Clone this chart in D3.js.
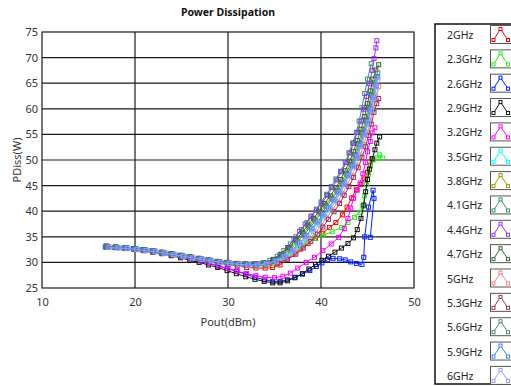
<!DOCTYPE html>
<html>
<head>
<meta charset="utf-8">
<script src="https://cdn.jsdelivr.net/npm/d3@7/dist/d3.min.js"></script>
<style>
  html, body { margin: 0; padding: 0; background: #fff; }
  svg { display: block; }
  text { font-family: "Noto Sans", "Open Sans", sans-serif; fill: #333; }
</style>
</head>
<body>
<svg id="chart" width="511" height="386"></svg>
<script>
// Power dissipation (W) against output power (dBm), one sweep per frequency.
const freqLabels = ["2GHz", "2.3GHz", "2.6GHz", "2.9GHz", "3.2GHz", "3.5GHz", "3.8GHz", "4.1GHz",
                    "4.4GHz", "4.7GHz", "5GHz", "5.3GHz", "5.6GHz", "5.9GHz", "6GHz"];
const seriesColors = ["#ff0000", "#22ee22", "#0022ff", "#111111", "#ff00ff", "#00ffff", "#999900", "#339966",
                      "#9933ff", "#336633", "#ff8080", "#993366", "#4d8a7a", "#3388ff", "#9999ff"];

const xTicks = [10, 20, 30, 40, 50];
const yTicks = [25, 30, 35, 40, 45, 50, 55, 60, 65, 70, 75];

// [Pout dBm, PDiss W]
const s2GHz = [[17.0,33.0],[18.0,32.9],[19.0,32.8],[20.0,32.6],[21.0,32.4],[22.0,32.2],[23.0,31.9],[24.0,31.6],[25.0,31.3],[26.0,31.0],[27.0,30.6],[28.0,30.2],[29.0,29.9],[30.0,29.6],[31.0,29.3],[32.0,29.0],[33.0,28.9],[34.0,28.9],[34.8,29.0],[35.6,29.5],[36.3,30.6],[37.0,31.6],[37.8,32.6],[38.6,33.7],[39.4,34.7],[40.2,35.7],[40.9,36.8],[41.6,37.8],[42.3,39.3],[42.8,40.8],[43.3,42.6],[43.8,44.2],[44.3,45.2],[44.7,46.3],[45.0,47.6],[45.3,49.0],[45.5,50.3]];
const s2p3GHz = [[17.1,33.0],[18.1,32.9],[19.1,32.8],[20.1,32.6],[21.1,32.4],[22.1,32.2],[23.1,31.9],[24.1,31.6],[25.1,31.3],[26.1,31.0],[27.1,30.7],[28.1,30.4],[29.1,30.1],[30.1,29.8],[31.1,29.6],[32.1,29.4],[33.1,29.3],[34.1,29.4],[35.0,29.8],[35.9,30.6],[36.7,31.8],[37.5,33.0],[38.4,34.0],[39.3,34.7],[40.2,35.3],[41.2,36.0],[42.2,36.8],[42.9,37.8],[43.6,38.8],[44.2,39.8],[44.5,41.0],[44.7,43.0],[44.9,45.2],[45.1,47.2],[45.3,48.8],[45.6,50.0],[46.0,50.4],[46.3,51.0],[46.6,50.4]];
const s2p6GHz = [[16.9,33.0],[17.9,32.9],[18.9,32.8],[19.9,32.6],[20.9,32.4],[21.9,32.1],[22.9,31.8],[23.9,31.5],[24.9,31.1],[25.9,30.7],[26.9,30.3],[27.9,29.8],[28.9,29.3],[29.9,28.8],[30.9,28.3],[31.9,27.7],[32.9,27.1],[33.9,26.6],[34.8,26.3],[35.6,26.3],[36.4,26.6],[37.2,27.1],[38.0,27.7],[38.8,28.4],[39.5,29.2],[40.1,29.9],[40.7,30.5],[41.3,30.8],[42.0,30.7],[42.6,30.5],[43.2,30.1],[43.8,29.8],[44.4,29.6],[44.6,31.0],[44.7,35.0],[45.1,40.8],[45.6,44.1],[45.7,42.5],[45.3,34.9]];
const s2p9GHz = [[16.9,33.2],[17.9,33.0],[18.9,32.8],[19.9,32.6],[20.9,32.3],[21.9,32.0],[22.9,31.7],[23.9,31.3],[24.9,30.9],[25.9,30.4],[26.9,30.0],[27.9,29.5],[28.9,29.0],[29.9,28.4],[30.9,27.8],[31.9,27.2],[32.9,26.7],[33.9,26.3],[34.8,26.0],[35.6,26.0],[36.4,26.4],[37.2,27.0],[38.0,27.8],[38.7,28.7],[39.4,29.6],[40.1,30.4],[40.8,31.2],[41.5,32.0],[42.2,32.8],[42.9,33.7],[43.5,34.8],[43.9,36.4],[44.3,38.6],[44.6,41.2],[44.8,43.8],[45.0,46.2],[45.2,48.2],[45.5,50.2],[45.8,52.0],[46.0,53.3],[46.3,54.5]];
const s3p2GHz = [[17.0,33.0],[18.0,32.9],[19.0,32.8],[20.0,32.6],[21.0,32.4],[22.0,32.1],[23.0,31.8],[24.0,31.5],[25.0,31.1],[26.0,30.7],[27.0,30.3],[28.0,29.8],[29.0,29.3],[30.0,28.8],[31.0,28.3],[32.0,27.8],[33.0,27.4],[34.0,27.1],[35.0,27.0],[35.9,27.3],[36.7,27.9],[37.5,28.9],[38.4,30.0],[39.3,31.0],[40.2,32.3],[41.1,33.6],[41.9,34.9],[42.5,36.6],[42.9,38.6],[43.2,40.6],[43.5,42.5],[43.9,44.1],[44.2,45.5],[44.5,47.3],[44.8,49.5],[45.0,51.6],[45.3,53.6],[45.5,55.3],[45.8,56.3]];
const s3p5GHz = [[17.2,33.0],[18.2,32.9],[19.2,32.8],[20.2,32.6],[21.2,32.4],[22.2,32.2],[23.2,31.9],[24.2,31.6],[25.2,31.3],[26.2,31.0],[27.2,30.7],[28.2,30.4],[29.2,30.1],[30.2,29.9],[31.2,29.7],[32.2,29.6],[33.2,29.6],[34.2,29.7],[35.2,30.0],[36.2,30.8],[37.1,31.9],[37.9,33.2],[38.6,34.6],[39.2,36.0],[39.8,37.4],[40.4,38.9],[41.0,40.4],[41.6,42.0],[42.1,43.6],[42.6,45.3],[43.1,47.1],[43.6,49.0],[44.0,51.0],[44.4,53.2],[44.8,55.5],[45.1,57.8],[45.4,60.1],[45.7,62.2],[45.9,63.5]];
const s3p8GHz = [[17.0,33.1],[18.0,33.0],[19.0,32.8],[20.0,32.6],[21.0,32.4],[22.0,32.2],[23.0,31.9],[24.0,31.6],[25.0,31.3],[26.0,31.0],[27.0,30.7],[28.0,30.4],[29.0,30.1],[30.0,29.9],[31.0,29.7],[32.0,29.7],[33.0,29.7],[34.0,29.8],[35.0,30.5],[35.8,31.5],[36.6,32.8],[37.4,34.2],[38.1,35.6],[38.7,37.0],[39.3,38.3],[39.9,39.7],[40.5,41.1],[41.1,42.6],[41.7,44.1],[42.2,45.7],[42.7,47.4],[43.2,49.2],[43.6,51.1],[44.0,53.2],[44.4,55.4],[44.8,57.8],[45.1,60.3],[45.4,62.7],[45.7,64.8],[46.0,66.3]];
const s4p1GHz = [[16.8,33.0],[17.8,32.9],[18.8,32.8],[19.8,32.7],[20.8,32.5],[21.8,32.3],[22.8,32.0],[23.8,31.7],[24.8,31.4],[25.8,31.1],[26.8,30.8],[27.8,30.5],[28.8,30.2],[29.8,30.0],[30.8,29.8],[31.8,29.7],[32.8,29.7],[33.7,29.9],[34.5,30.4],[35.3,31.2],[36.0,32.3],[36.7,33.6],[37.3,35.0],[37.9,36.4],[38.5,37.8],[39.0,39.1],[39.5,40.4],[40.0,41.8],[40.6,43.3],[41.1,44.8],[41.6,46.3],[42.1,47.8],[42.6,49.6],[43.0,51.4],[43.4,53.3],[43.8,55.4],[44.1,57.6],[44.4,60.2],[44.7,63.0],[45.0,65.8],[45.4,68.8]];
const s4p4GHz = [[17.1,33.0],[18.1,32.9],[19.1,32.8],[20.1,32.6],[21.1,32.4],[22.1,32.2],[23.1,31.9],[24.1,31.6],[25.1,31.3],[26.1,31.0],[27.1,30.7],[28.1,30.4],[29.1,30.1],[30.1,29.9],[31.1,29.7],[32.1,29.6],[33.1,29.7],[34.0,29.9],[34.8,30.5],[35.6,31.5],[36.4,32.9],[37.1,34.6],[37.7,36.1],[38.3,37.5],[38.9,38.9],[39.5,40.2],[40.1,41.6],[40.7,43.1],[41.2,44.6],[41.7,46.1],[42.2,47.7],[42.7,49.5],[43.1,51.4],[43.5,53.3],[43.9,55.4],[44.3,57.6],[44.6,59.9],[44.9,62.4],[45.2,64.9],[45.5,67.5],[45.7,69.8],[45.9,71.9],[46.0,73.3]];
const s4p7GHz = [[16.9,33.1],[17.9,33.0],[18.9,32.8],[19.9,32.7],[20.9,32.5],[21.9,32.2],[22.9,32.0],[23.9,31.7],[24.9,31.4],[25.9,31.1],[26.9,30.8],[27.9,30.5],[28.9,30.2],[29.9,30.0],[30.9,29.8],[31.9,29.7],[32.9,29.7],[33.9,29.9],[34.9,30.6],[35.7,31.6],[36.5,32.9],[37.3,34.4],[38.0,35.9],[38.6,37.3],[39.2,38.6],[39.8,40.0],[40.4,41.5],[41.0,43.0],[41.6,44.6],[42.1,46.2],[42.6,47.9],[43.1,49.8],[43.5,51.7],[43.9,53.8],[44.3,56.0],[44.7,58.5],[45.0,61.0],[45.3,63.5],[45.6,65.8],[45.9,67.6],[46.2,68.6]];
const s5GHz = [[17.2,33.0],[18.2,32.9],[19.2,32.7],[20.2,32.5],[21.2,32.3],[22.2,32.1],[23.2,31.8],[24.2,31.5],[25.2,31.2],[26.2,30.9],[27.2,30.6],[28.2,30.3],[29.2,30.0],[30.2,29.8],[31.2,29.6],[32.2,29.5],[33.2,29.5],[34.2,29.6],[35.3,30.0],[36.3,30.7],[37.2,31.8],[38.0,33.0],[38.7,34.4],[39.4,35.8],[40.0,37.2],[40.6,38.7],[41.2,40.2],[41.8,41.8],[42.3,43.4],[42.8,45.1],[43.3,46.9],[43.8,48.8],[44.2,50.8],[44.6,53.0],[45.0,55.3],[45.3,57.7],[45.6,60.0],[45.9,62.4],[46.2,64.3]];
const s5p3GHz = [[17.0,33.0],[18.0,32.9],[19.0,32.7],[20.0,32.5],[21.0,32.3],[22.0,32.1],[23.0,31.8],[24.0,31.5],[25.0,31.2],[26.0,30.9],[27.0,30.6],[28.0,30.3],[29.0,30.0],[30.0,29.8],[31.0,29.6],[32.0,29.5],[33.0,29.5],[34.0,29.5],[35.3,29.9],[36.4,30.6],[37.3,31.6],[38.1,32.8],[38.9,34.1],[39.6,35.5],[40.2,36.9],[40.8,38.4],[41.4,39.9],[42.0,41.5],[42.5,43.1],[43.0,44.8],[43.5,46.6],[44.0,48.5],[44.4,50.5],[44.8,52.6],[45.1,54.8],[45.4,57.0],[45.7,59.3],[46.0,61.0],[46.2,62.0]];
const s5p6GHz = [[16.9,33.0],[17.9,32.9],[18.9,32.8],[19.9,32.6],[20.9,32.4],[21.9,32.2],[22.9,31.9],[23.9,31.6],[24.9,31.3],[25.9,31.0],[26.9,30.7],[27.9,30.4],[28.9,30.1],[29.9,29.9],[30.9,29.7],[31.9,29.6],[32.9,29.6],[33.9,29.8],[35.0,30.4],[35.9,31.4],[36.7,32.6],[37.5,34.0],[38.2,35.4],[38.8,36.8],[39.4,38.1],[40.0,39.5],[40.6,40.9],[41.2,42.4],[41.8,43.9],[42.3,45.5],[42.8,47.2],[43.3,49.0],[43.7,50.9],[44.1,53.0],[44.5,55.2],[44.9,57.6],[45.2,60.1],[45.5,62.6],[45.8,65.0],[46.1,67.0]];
const s5p9GHz = [[17.1,33.0],[18.1,32.9],[19.1,32.8],[20.1,32.6],[21.1,32.4],[22.1,32.1],[23.1,31.8],[24.1,31.5],[25.1,31.2],[26.1,30.9],[27.1,30.6],[28.1,30.3],[29.1,30.0],[30.1,29.8],[31.1,29.6],[32.1,29.5],[33.1,29.5],[34.0,29.7],[35.1,30.3],[36.0,31.2],[36.9,32.4],[37.7,33.8],[38.4,35.2],[39.0,36.6],[39.6,37.9],[40.2,39.3],[40.8,40.7],[41.4,42.2],[41.9,43.7],[42.4,45.3],[42.9,47.0],[43.4,48.8],[43.8,50.7],[44.2,52.8],[44.6,55.0],[45.0,57.4],[45.3,59.8],[45.6,62.2],[45.9,64.5],[46.1,66.2]];
const s6GHz = [[17.2,32.9],[18.2,32.8],[19.2,32.7],[20.2,32.5],[21.2,32.3],[22.2,32.1],[23.2,31.8],[24.2,31.5],[25.2,31.2],[26.2,30.9],[27.2,30.6],[28.2,30.3],[29.2,30.0],[30.2,29.8],[31.2,29.6],[32.2,29.5],[33.2,29.5],[34.1,29.7],[35.2,30.2],[36.1,31.1],[37.0,32.3],[37.8,33.7],[38.5,35.1],[39.1,36.5],[39.7,37.8],[40.3,39.2],[40.9,40.6],[41.5,42.1],[42.0,43.6],[42.5,45.2],[43.0,46.9],[43.5,48.7],[43.9,50.6],[44.3,52.7],[44.7,54.9],[45.1,57.3],[45.4,59.7],[45.7,62.1],[45.9,64.3],[46.1,65.5]];

const seriesData = [s2GHz, s2p3GHz, s2p6GHz, s2p9GHz, s3p2GHz, s3p5GHz, s3p8GHz, s4p1GHz,
                    s4p4GHz, s4p7GHz, s5GHz, s5p3GHz, s5p6GHz, s5p9GHz, s6GHz];

const svg = d3.select("#chart");
const plot = { left: 42, right: 414, top: 32, bottom: 288 };

const x = d3.scaleLinear().domain([10, 50]).range([plot.left, plot.right]);
const y = d3.scaleLinear().domain([25, 75]).range([plot.bottom, plot.top]);

// Title
svg.append("text")
  .attr("x", (plot.left + plot.right) / 2).attr("y", 16)
  .attr("text-anchor", "middle")
  .style("font-size", "10.5px").style("font-weight", "bold").style("fill", "#111")
  .text("Power Dissipation");

// Grid
const grid = svg.append("g").attr("stroke", "#1a1a1a").attr("stroke-width", 1.2);
grid.selectAll("line.h").data(yTicks.slice(1, -1)).join("line")
  .attr("x1", plot.left).attr("x2", plot.right)
  .attr("y1", d => y(d)).attr("y2", d => y(d));
grid.selectAll("line.v").data(xTicks.slice(1, -1)).join("line")
  .attr("y1", plot.top).attr("y2", plot.bottom)
  .attr("x1", d => x(d)).attr("x2", d => x(d));

// Axes
const xAxis = svg.append("g").attr("transform", `translate(0,${plot.bottom})`)
  .call(d3.axisBottom(x).tickValues(xTicks).tickSize(0).tickPadding(10));
const yAxis = svg.append("g").attr("transform", `translate(${plot.left},0)`)
  .call(d3.axisLeft(y).tickValues(yTicks).tickSize(0).tickPadding(4));
[xAxis, yAxis].forEach(a => {
  a.select(".domain").remove();
  a.selectAll("text").style("font-size", "11px").style("fill", "#333")
    .style("font-family", "'Noto Sans', sans-serif");
});

svg.append("text")
  .attr("x", (plot.left + plot.right) / 2).attr("y", 326)
  .attr("text-anchor", "middle").style("font-size", "11px")
  .text("Pout(dBm)");
svg.append("text")
  .attr("transform", `translate(21,${(plot.top + plot.bottom) / 2}) rotate(-90)`)
  .attr("text-anchor", "middle").style("font-size", "11px")
  .text("PDiss(W)");

// Series
const line = d3.line().x(d => x(d[0])).y(d => y(d[1]));
const series = svg.append("g");
seriesData.forEach((data, i) => {
  const g = series.append("g");
  g.append("path").datum(data)
    .attr("fill", "none").attr("stroke", seriesColors[i]).attr("stroke-width", 1)
    .attr("d", line);
  g.selectAll("rect").data(data).join("rect")
    .attr("x", d => x(d[0]) - 2).attr("y", d => y(d[1]) - 2)
    .attr("width", 4).attr("height", 4)
    .attr("fill", "none").attr("stroke", seriesColors[i]).attr("stroke-width", 1);
});

// Plot frame
svg.append("rect")
  .attr("x", plot.left).attr("y", plot.top)
  .attr("width", plot.right - plot.left).attr("height", plot.bottom - plot.top)
  .attr("fill", "none").attr("stroke", "#1a1a1a").attr("stroke-width", 1.2);

// Legend
const legend = svg.append("g");
legend.append("rect")
  .attr("x", 435).attr("y", 24).attr("width", 100).attr("height", 360)
  .attr("fill", "#fff").attr("stroke", "#111").attr("stroke-width", 1.5);
const rowStep = 24.35;
freqLabels.forEach((name, i) => {
  const cy = 35 + i * rowStep;
  const row = legend.append("g");
  row.append("text").attr("x", 447).attr("y", cy + 4)
    .style("font-size", "10.5px").style("fill", "#222").text(name);
  row.append("rect").attr("x", 490.5).attr("y", cy - 9.5).attr("width", 30).attr("height", 18)
    .attr("fill", "#fff").attr("stroke", "#555").attr("stroke-width", 1);
  const glyph = [[493.5, cy + 5], [500.5, cy - 6], [508, cy + 5]];
  row.append("path").datum(glyph)
    .attr("fill", "none").attr("stroke", seriesColors[i]).attr("stroke-width", 1)
    .attr("d", d3.line());
  row.selectAll("rect.m").data(glyph).join("rect").attr("class", "m")
    .attr("x", d => d[0] - 1.5).attr("y", d => d[1] - 1.5)
    .attr("width", 3).attr("height", 3)
    .attr("fill", "#fff").attr("stroke", seriesColors[i]).attr("stroke-width", 1);
});
</script>
</body>
</html>
